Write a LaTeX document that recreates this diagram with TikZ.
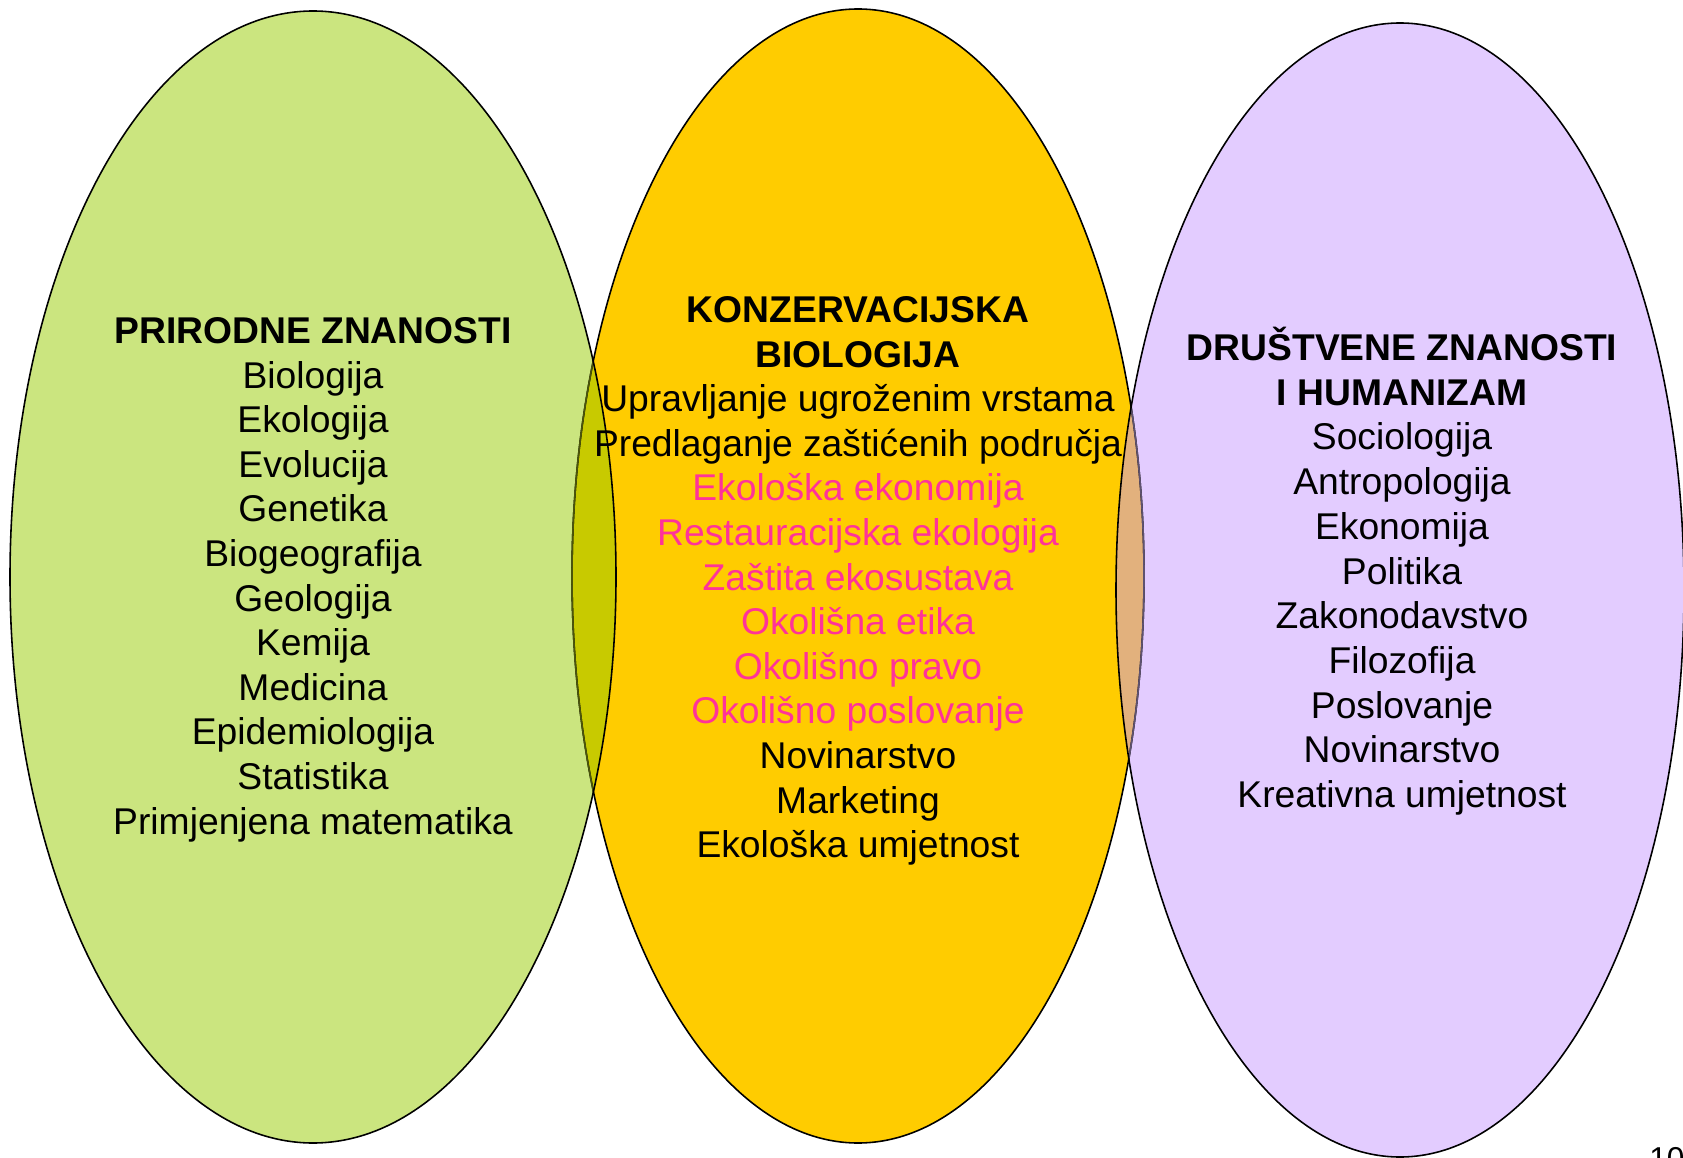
\documentclass[tikz,border=0pt]{standalone}
\usepackage{fontspec}
\setmainfont{Liberation Sans}
\usepackage{tikz}

\definecolor{prirgreen}{RGB}{203,229,127}
\definecolor{konsyellow}{RGB}{255,204,0}
\definecolor{drusviolet}{RGB}{227,204,255}
\definecolor{olivemix}{RGB}{200,202,0}
\definecolor{tanmix}{RGB}{226,177,125}
\definecolor{ekopink}{RGB}{255,51,153}
\definecolor{dimolive}{RGB}{75,85,10}
\definecolor{dimviolet}{RGB}{95,82,112}

\tikzset{
  edge/.style={line width=0.9pt},
  item/.style={anchor=base, inner sep=0pt, font=\fontsize{21.2}{25}\selectfont},
  head/.style={item, font=\fontsize{21.2}{25}\selectfont\bfseries},
}

\begin{document}
\begin{tikzpicture}[x=0.02cm, y=-0.02cm]
		\useasboundingbox (0,0) rectangle (1683,1158);

		% the three fields
		\def\prirell{(313,577) ellipse [x radius=303, y radius=566]}
		\def\konsell{(858,576) ellipse [x radius=286, y radius=567]}
		\def\drusell{(1400,590) ellipse [x radius=284, y radius=567]}

		\fill[prirgreen] \prirell;
		\fill[konsyellow] \konsell;
		\fill[drusviolet] \drusell;

		% overlaps
		\begin{scope}
			\clip \konsell;
			\fill[olivemix] \prirell;
			\fill[tanmix] \drusell;
		\end{scope}

		% draw outlines
		\draw[edge] \konsell;
		\begin{scope}
			\clip \prirell;
			\draw[edge, dimolive] \konsell;
		\end{scope}
		\begin{scope}
			\clip \drusell;
			\draw[edge, dimviolet] \konsell;
		\end{scope}
		\draw[edge] \prirell;
		\draw[edge] \drusell;

		% left field
		\node[head] (prir-head) at (313,343.5) {PRIRODNE ZNANOSTI};
		\foreach \t [count=\i] in {Biologija,Ekologija,Evolucija,Genetika,Biogeografija,Geologija,Kemija,Medicina,Epidemiologija,Statistika,Primjenjena matematika}
			\node[item] (prir-\i) at (313,{343.5+44.6*\i}) {\t};

		% middle field
		\node[head] (kons-head) at (858,322.5) {KONZERVACIJSKA};
		\node[head] (kons-head2) at (858,367.1) {BIOLOGIJA};
		\foreach \t/\c [count=\i] in {Upravljanje ugroženim vrstama/black,Predlaganje zaštićenih područja/black,Ekološka ekonomija/ekopink,Restauracijska ekologija/ekopink,Zaštita ekosustava/ekopink,Okolišna etika/ekopink,Okolišno pravo/ekopink,Okolišno poslovanje/ekopink,Novinarstvo/black,Marketing/black,Ekološka umjetnost/black}
			\node[item, text=\c] (kons-\i) at (858,{367.1+44.6*\i}) {\t};

		% right field
		\node[head] (drus-head) at (1402,360.5) {DRUŠTVENE ZNANOSTI};
		\node[head] (drus-head2) at (1402,405.2) {I HUMANIZAM};
		\foreach \t [count=\i] in {Sociologija,Antropologija,Ekonomija,Politika,Zakonodavstvo,Filozofija,Poslovanje,Novinarstvo,Kreativna umjetnost}
			\node[item] (drus-\i) at (1402,{405.2+44.7*\i}) {\t};

		% page number, cut by the page edge
		\node[anchor=north west, inner sep=0pt, font=\fontsize{18}{20}\selectfont] (pagenum) at (1649,1147) {10};
	\end{tikzpicture}
\end{document}
